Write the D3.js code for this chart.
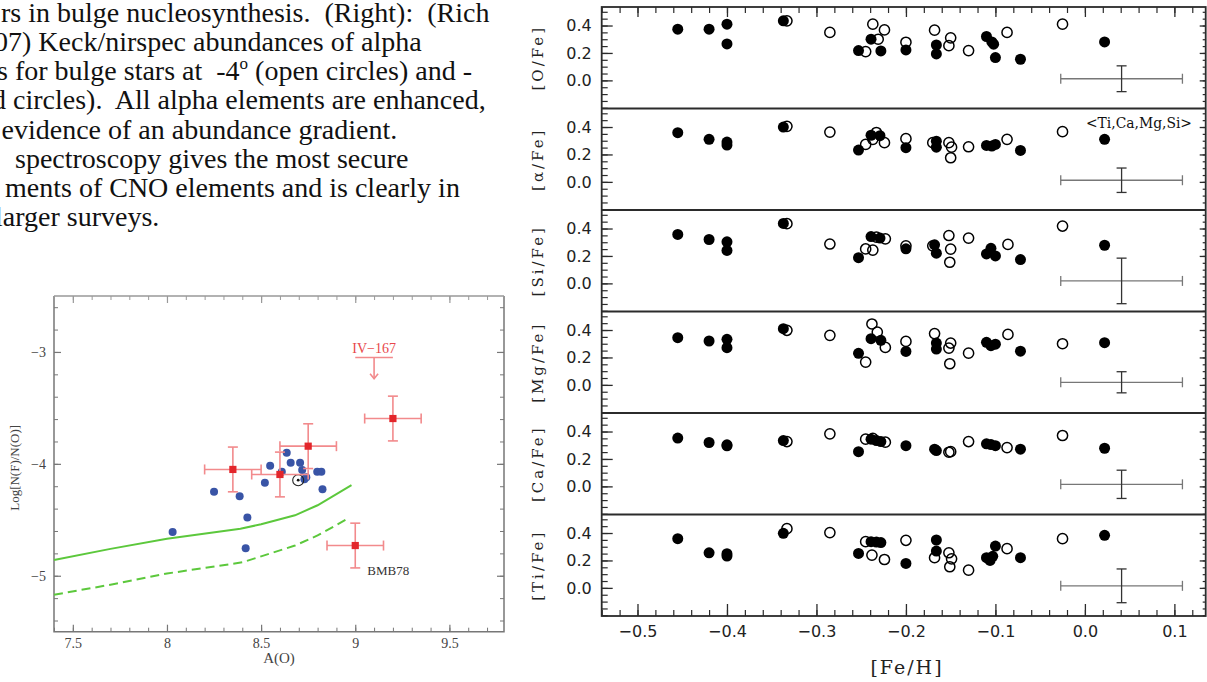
<!DOCTYPE html>
<html>
<head>
<meta charset="utf-8">
<script src="https://cdn.jsdelivr.net/npm/d3@7"></script>
<style>
  body { margin: 0; background: #fff; }
  svg { display: block; }
</style>
</head>
<body>
<div id="fig"></div>
<script>
// ---------- data ----------
// paragraph (cut off on the left in the source slide), "^" marks a superscript
const textLines = [
    "rs in bulge nucleosynthesis.  (Right):  (Rich",
    "07) Keck/nirspec abundances of alpha",
    "s for bulge stars at  -4^o^ (open circles) and -",
    "d circles).  All alpha elements are enhanced,",
    "evidence of an abundance gradient.",
    "spectroscopy gives the most secure",
    "ments of CNO elements and is clearly in",
    "larger surveys."
];

// left plot: fluorine vs oxygen
const blueAO = [8.03, 8.25, 8.386, 8.427, 8.418, 8.52, 8.548, 8.61, 8.636, 8.657, 8.707, 8.718, 8.74, 8.798, 8.82, 8.826, 8.73];
const blueNF = [-4.61, -4.25, -4.29, -4.48, -4.755, -4.17, -4.018, -4.07, -3.90, -3.99, -3.99, -4.056, -4.12, -4.07, -4.07, -4.226, -4.137];
const redAO = [8.35, 8.6, 8.75, 9.2, 9.0];
const redNF = [-4.05, -4.095, -3.842, -3.595, -4.73];
const redErrAO = 0.15;
const redErrNF = 0.2;
const modelAO = [7.4, 7.7, 8.0, 8.39, 8.5, 8.68, 8.8, 8.98];
const modelSolid = [-4.86, -4.76, -4.67, -4.58, -4.54, -4.46, -4.37, -4.19];
const modelDashAO = [7.4, 7.7, 8.0, 8.4, 8.68, 8.8, 8.96];
const modelDashed = [-5.17, -5.08, -4.98, -4.88, -4.73, -4.64, -4.49];
const sunPoint = [8.697, -4.146];
const limitPoint = [9.1, -3.05];   // IV-167 upper limit
const limitHalfWidth = 0.1;
const limitDrop = 0.19;
const leftXTicks = [7.5, 8, 8.5, 9, 9.5];
const leftYTicks = [-5, -4, -3];

// right plot: [X/Fe] vs [Fe/H], filled = one field, open = the other
const panelLabels = ["[O/Fe]", "[\u03b1/Fe]", "[Si/Fe]", "[Mg/Fe]", "[Ca/Fe]", "[Ti/Fe]"];

const oFilled = [[-0.455,0.373],[-0.420,0.373],[-0.400,0.41],[-0.400,0.266],[-0.337,0.434],[-0.253,0.217],[-0.239,0.30],[-0.228,0.215],[-0.200,0.222],[-0.166,0.258],[-0.166,0.193],[-0.110,0.32],[-0.104,0.28],[-0.102,0.264],[-0.100,0.166],[-0.072,0.154],[0.022,0.28]];
const oOpen = [[-0.333,0.434],[-0.285,0.35],[-0.245,0.21],[-0.237,0.41],[-0.231,0.30],[-0.224,0.368],[-0.200,0.278],[-0.168,0.366],[-0.150,0.31],[-0.152,0.253],[-0.130,0.217],[-0.087,0.35],[-0.025,0.41]];

const aFilled = [[-0.455,0.359],[-0.420,0.31],[-0.400,0.29],[-0.400,0.268],[-0.337,0.40],[-0.253,0.232],[-0.239,0.34],[-0.229,0.337],[-0.200,0.249],[-0.166,0.297],[-0.166,0.253],[-0.110,0.266],[-0.104,0.261],[-0.100,0.273],[-0.072,0.229],[0.022,0.31]];
const aOpen = [[-0.333,0.405],[-0.285,0.363],[-0.245,0.273],[-0.237,0.31],[-0.233,0.36],[-0.224,0.286],[-0.200,0.315],[-0.170,0.286],[-0.152,0.286],[-0.149,0.253],[-0.150,0.176],[-0.130,0.256],[-0.087,0.31],[-0.025,0.366]];

const siFilled = [[-0.455,0.357],[-0.420,0.32],[-0.400,0.303],[-0.400,0.24],[-0.337,0.437],[-0.253,0.187],[-0.239,0.341],[-0.229,0.33],[-0.200,0.252],[-0.168,0.281],[-0.166,0.22],[-0.110,0.215],[-0.105,0.256],[-0.100,0.2],[-0.072,0.174],[0.022,0.278]];
const siOpen = [[-0.333,0.435],[-0.285,0.287],[-0.245,0.251],[-0.237,0.243],[-0.233,0.337],[-0.223,0.325],[-0.200,0.274],[-0.170,0.274],[-0.152,0.349],[-0.150,0.25],[-0.151,0.154],[-0.130,0.33],[-0.086,0.284],[-0.025,0.418]];

const mgFilled = [[-0.455,0.344],[-0.420,0.32],[-0.400,0.332],[-0.400,0.271],[-0.337,0.41],[-0.253,0.23],[-0.239,0.337],[-0.228,0.325],[-0.200,0.244],[-0.166,0.305],[-0.166,0.261],[-0.110,0.31],[-0.105,0.286],[-0.100,0.297],[-0.072,0.246],[0.022,0.308]];
const mgOpen = [[-0.333,0.398],[-0.285,0.361],[-0.245,0.166],[-0.238,0.444],[-0.232,0.385],[-0.223,0.273],[-0.200,0.317],[-0.168,0.374],[-0.150,0.305],[-0.152,0.268],[-0.151,0.154],[-0.130,0.231],[-0.086,0.368],[-0.025,0.30]];

const caFilled = [[-0.455,0.352],[-0.420,0.32],[-0.400,0.303],[-0.400,0.296],[-0.337,0.334],[-0.253,0.253],[-0.239,0.344],[-0.233,0.334],[-0.228,0.327],[-0.200,0.297],[-0.168,0.271],[-0.166,0.261],[-0.110,0.31],[-0.105,0.305],[-0.100,0.297],[-0.072,0.271],[0.022,0.278]];
const caOpen = [[-0.333,0.327],[-0.285,0.383],[-0.245,0.344],[-0.237,0.35],[-0.223,0.322],[-0.152,0.249],[-0.150,0.253],[-0.130,0.327],[-0.087,0.283],[-0.025,0.371]];

const tiFilled = [[-0.455,0.359],[-0.420,0.256],[-0.400,0.249],[-0.400,0.232],[-0.337,0.398],[-0.253,0.251],[-0.239,0.337],[-0.233,0.334],[-0.228,0.33],[-0.200,0.178],[-0.166,0.349],[-0.166,0.268],[-0.110,0.22],[-0.106,0.2],[-0.103,0.23],[-0.100,0.305],[-0.072,0.22],[0.022,0.383]];
const tiOpen = [[-0.333,0.432],[-0.285,0.403],[-0.245,0.337],[-0.238,0.239],[-0.224,0.207],[-0.200,0.347],[-0.168,0.22],[-0.152,0.256],[-0.149,0.212],[-0.151,0.154],[-0.130,0.129],[-0.087,0.286],[-0.025,0.359]];

// typical error bar in each panel
const errFeH = 0.041;
const errFeHSize = 0.068;
const errXFe = [0.012, 0.012, 0.018, 0.019, 0.015, 0.015];
const errXFeSize = [0.094, 0.089, 0.166, 0.077, 0.103, 0.123];

const rightXTicks = [-0.5, -0.4, -0.3, -0.2, -0.1, 0.0, 0.1];
const rightYTicks = [0.0, 0.2, 0.4];

// ---------- layout ----------
const layout = {
    width: 1207,
    height: 682,
    textTop: 21.7,
    textLead: 29.2,
    textX: [1, -6, -3, -8, 1.5, 15, 5, -5],
    left: {left: 54, right: 504, top: 296, bottom: 631.7},
    right: {left: 601.7, right: 1205.7, top: 7, bottom: 616}
};

const svg = d3.select("#fig").append("svg")
    .attr("width", layout.width)
    .attr("height", layout.height)
    .attr("viewBox", [0, 0, layout.width, layout.height].join(" "));

// ---------- paragraph ----------
let para = svg.append("g")
    .attr("font-family", "'Liberation Serif', 'Times New Roman', serif")
    .attr("font-size", 28)
    .attr("fill", "#111");
textLines.forEach((line, i) => {
    let parts = line.split("^");
    let t = para.append("text")
        .attr("x", layout.textX[i])
        .attr("y", layout.textTop + i * layout.textLead)
        .style("white-space", "pre");
    parts.forEach((p, k) => {
        let span = t.append("tspan").text(p);
        if (k % 2 === 1) span.attr("font-size", 17).attr("dy", -11);
        if (k > 0 && k % 2 === 0) span.attr("dy", 11);
    });
});

// ---------- left plot ----------
const L = layout.left;
const xL = d3.scaleLinear().domain([7.4, 9.79]).range([L.left, L.right]);
const yL = d3.scaleLinear().domain([-5.5, -2.5]).range([L.bottom, L.top]);
const leftXMinor = d3.range(74, 98).map(k => k / 10);
const leftYMinor = d3.range(-27, -12).map(k => k / 5);

function styleAxis(g, color, width) {
    g.select(".domain").remove();
    g.selectAll("line").attr("stroke", color).attr("stroke-width", width);
}

let lp = svg.append("g");
// frame (top edge is paler in the scan)
lp.append("path")
    .attr("d", `M${L.left},${L.top}V${L.bottom}H${L.right}V${L.top}`)
    .attr("fill", "none").attr("stroke", "#777").attr("stroke-width", 1.5);
lp.append("line")
    .attr("x1", L.left).attr("x2", L.right).attr("y1", L.top).attr("y2", L.top)
    .attr("stroke", "#999").attr("stroke-width", 1.3);

let lxb = lp.append("g").attr("transform", `translate(0,${L.bottom})`)
    .call(d3.axisBottom(xL).tickValues(leftXTicks).tickSize(-7).tickPadding(6).tickFormat(d3.format("")));
lxb.call(styleAxis, "#777", 1.2);
lp.append("g").attr("transform", `translate(0,${L.bottom})`)
    .call(d3.axisBottom(xL).tickValues(leftXMinor).tickSize(-4).tickFormat(""))
    .call(styleAxis, "#777", 1);
lp.append("g").attr("transform", `translate(0,${L.top})`)
    .call(d3.axisTop(xL).tickValues(leftXTicks).tickSize(-7).tickFormat(""))
    .call(styleAxis, "#999", 1.2);
lp.append("g").attr("transform", `translate(0,${L.top})`)
    .call(d3.axisTop(xL).tickValues(leftXMinor).tickSize(-4).tickFormat(""))
    .call(styleAxis, "#999", 1);
let lyl = lp.append("g").attr("transform", `translate(${L.left},0)`)
    .call(d3.axisLeft(yL).tickValues(leftYTicks).tickSize(-7).tickPadding(8).tickFormat(d3.format("")));
lyl.call(styleAxis, "#777", 1.2);
lp.append("g").attr("transform", `translate(${L.left},0)`)
    .call(d3.axisLeft(yL).tickValues(leftYMinor).tickSize(-4).tickFormat(""))
    .call(styleAxis, "#777", 1);
lp.append("g").attr("transform", `translate(${L.right},0)`)
    .call(d3.axisRight(yL).tickValues(leftYTicks).tickSize(-7).tickFormat(""))
    .call(styleAxis, "#777", 1.2);
lp.append("g").attr("transform", `translate(${L.right},0)`)
    .call(d3.axisRight(yL).tickValues(leftYMinor).tickSize(-4).tickFormat(""))
    .call(styleAxis, "#777", 1);
lp.selectAll(".tick text")
    .attr("font-family", "'Liberation Serif', serif")
    .attr("font-size", 14)
    .attr("fill", "#444");

// axis titles
lp.append("text")
    .attr("transform", `translate(19,${(L.top + L.bottom) / 2 + 4}) rotate(-90)`)
    .attr("text-anchor", "middle")
    .attr("font-family", "'Liberation Serif', serif")
    .attr("font-size", 13)
    .attr("fill", "#444")
    .text("Log[N(F)/N(O)]");
lp.append("text")
    .attr("x", (L.left + L.right) / 2)
    .attr("y", 663)
    .attr("text-anchor", "middle")
    .attr("font-family", "'Liberation Serif', serif")
    .attr("font-size", 15)
    .attr("fill", "#444")
    .text("A(O)");

// model curves
let lineSolid = d3.line().x((d, i) => xL(modelAO[i])).y(d => yL(d));
let lineDash = d3.line().x((d, i) => xL(modelDashAO[i])).y(d => yL(d));
lp.append("path").datum(modelSolid)
    .attr("d", lineSolid).attr("fill", "none")
    .attr("stroke", "#5cc83c").attr("stroke-width", 2);
lp.append("path").datum(modelDashed)
    .attr("d", lineDash).attr("fill", "none")
    .attr("stroke", "#5cc83c").attr("stroke-width", 2)
    .attr("stroke-dasharray", "9,5");

// blue field stars
lp.selectAll("circle.blue").data(blueAO).join("circle")
    .attr("class", "blue")
    .attr("cx", d => xL(d))
    .attr("cy", (d, i) => yL(blueNF[i]))
    .attr("r", 4)
    .attr("fill", "#3954a6");

// sun symbol
lp.append("circle")
    .attr("cx", xL(sunPoint[0])).attr("cy", yL(sunPoint[1])).attr("r", 5.5)
    .attr("fill", "none").attr("stroke", "#222").attr("stroke-width", 1.1);
lp.append("circle")
    .attr("cx", xL(sunPoint[0])).attr("cy", yL(sunPoint[1])).attr("r", 1.4)
    .attr("fill", "#111");

// red bulge stars with error bars
const errColor = "#f28a8c";
redAO.forEach((a, i) => {
    let cx = xL(a), cy = yL(redNF[i]);
    let x0 = xL(a - redErrAO), x1 = xL(a + redErrAO);
    let y0 = yL(redNF[i] - redErrNF), y1 = yL(redNF[i] + redErrNF);
    let eb = lp.append("g").attr("stroke", errColor).attr("stroke-width", 1.6);
    eb.append("line").attr("x1", x0).attr("x2", x1).attr("y1", cy).attr("y2", cy);
    eb.append("line").attr("x1", cx).attr("x2", cx).attr("y1", y0).attr("y2", y1);
    eb.append("line").attr("x1", x0).attr("x2", x0).attr("y1", cy - 5).attr("y2", cy + 5);
    eb.append("line").attr("x1", x1).attr("x2", x1).attr("y1", cy - 5).attr("y2", cy + 5);
    eb.append("line").attr("x1", cx - 5).attr("x2", cx + 5).attr("y1", y0).attr("y2", y0);
    eb.append("line").attr("x1", cx - 5).attr("x2", cx + 5).attr("y1", y1).attr("y2", y1);
});
lp.selectAll("rect.red").data(redAO).join("rect")
    .attr("class", "red")
    .attr("x", d => xL(d) - 3.6)
    .attr("y", (d, i) => yL(redNF[i]) - 3.6)
    .attr("width", 7.2).attr("height", 7.2)
    .attr("fill", "#e3262b");

// IV-167 upper limit
let lim = lp.append("g").attr("stroke", errColor).attr("stroke-width", 1.6).attr("fill", "none");
let lx = xL(limitPoint[0]), ly = yL(limitPoint[1]), ly2 = yL(limitPoint[1] - limitDrop);
lim.append("line")
    .attr("x1", xL(limitPoint[0] - limitHalfWidth)).attr("x2", xL(limitPoint[0] + limitHalfWidth))
    .attr("y1", ly).attr("y2", ly);
lim.append("line").attr("x1", lx).attr("x2", lx).attr("y1", ly).attr("y2", ly2);
lim.append("path").attr("d", `M${lx - 4},${ly2 - 5}L${lx},${ly2}L${lx + 4},${ly2 - 5}`);
lp.append("text")
    .attr("x", lx).attr("y", ly - 5)
    .attr("text-anchor", "middle")
    .attr("font-family", "'Liberation Serif', serif")
    .attr("font-size", 14)
    .attr("fill", "#e8474b")
    .text("IV\u2212167");
lp.append("text")
    .attr("x", xL(redAO[4]) + 12).attr("y", yL(redNF[4]) + 29)
    .attr("font-family", "'Liberation Serif', serif")
    .attr("font-size", 13)
    .attr("fill", "#333")
    .text("BMB78");

// ---------- right plot ----------
const R = layout.right;
const ph = (R.bottom - R.top) / 6;
const xR = d3.scaleLinear().domain([-0.54, 0.135]).range([R.left, R.right]);
const yR = d3.scaleLinear().domain([-0.205, 0.535]).range([ph, 0]);
const rightXMinor = d3.range(-27, 7).map(k => k * 0.02);
const rightYMinor = d3.range(-4, 11).map(k => k * 0.05);

const panels = [
    {label: panelLabels[0], filled: oFilled, open: oOpen},
    {label: panelLabels[1], filled: aFilled, open: aOpen},
    {label: panelLabels[2], filled: siFilled, open: siOpen},
    {label: panelLabels[3], filled: mgFilled, open: mgOpen},
    {label: panelLabels[4], filled: caFilled, open: caOpen},
    {label: panelLabels[5], filled: tiFilled, open: tiOpen}
];

const ink = "#2b2b2b";

panels.forEach((p, i) => {
    let g = svg.append("g").attr("transform", `translate(0,${R.top + i * ph})`);

    // y ticks, inward on both sides
    g.append("g").attr("transform", `translate(${R.left},0)`)
        .call(d3.axisLeft(yR).tickValues(rightYTicks).tickSize(-11).tickPadding(10).tickFormat(d3.format(".1f")))
        .call(styleAxis, ink, 1.3)
        .selectAll("text")
        .attr("font-family", "'DejaVu Sans', sans-serif")
        .attr("font-size", 16)
        .attr("fill", "#222");
    g.append("g").attr("transform", `translate(${R.left},0)`)
        .call(d3.axisLeft(yR).tickValues(rightYMinor).tickSize(-6).tickFormat(""))
        .call(styleAxis, ink, 1.2);
    g.append("g").attr("transform", `translate(${R.right},0)`)
        .call(d3.axisRight(yR).tickValues(rightYTicks).tickSize(-6).tickFormat(""))
        .call(styleAxis, ink, 1.3);
    g.append("g").attr("transform", `translate(${R.right},0)`)
        .call(d3.axisRight(yR).tickValues(rightYMinor).tickSize(-3).tickFormat(""))
        .call(styleAxis, ink, 1.2);

    // panel label
    g.append("text")
        .attr("transform", `translate(543,${ph / 2}) rotate(-90)`)
        .attr("text-anchor", "middle")
        .attr("font-family", "'DejaVu Serif', serif")
        .attr("font-size", 15)
        .attr("letter-spacing", 3)
        .attr("fill", "#222")
        .text(p.label);

    // typical error bar
    let ex0 = xR(errFeH - errFeHSize), ex1 = xR(errFeH + errFeHSize), ecx = xR(errFeH);
    let ecy = yR(errXFe[i]), ey0 = yR(errXFe[i] - errXFeSize[i]), ey1 = yR(errXFe[i] + errXFeSize[i]);
    let eb = g.append("g").attr("stroke-width", 1.3);
    eb.append("line").attr("x1", ex0).attr("x2", ex1).attr("y1", ecy).attr("y2", ecy).attr("stroke", "#777");
    eb.append("line").attr("x1", ex0).attr("x2", ex0).attr("y1", ecy - 5).attr("y2", ecy + 5).attr("stroke", "#777");
    eb.append("line").attr("x1", ex1).attr("x2", ex1).attr("y1", ecy - 5).attr("y2", ecy + 5).attr("stroke", "#777");
    eb.append("line").attr("x1", ecx).attr("x2", ecx).attr("y1", ey0).attr("y2", ey1).attr("stroke", "#333");
    eb.append("line").attr("x1", ecx - 5).attr("x2", ecx + 5).attr("y1", ey0).attr("y2", ey0).attr("stroke", "#333");
    eb.append("line").attr("x1", ecx - 5).attr("x2", ecx + 5).attr("y1", ey1).attr("y2", ey1).attr("stroke", "#333");

    // stars
    g.selectAll("circle.filled").data(p.filled).join("circle")
        .attr("class", "filled")
        .attr("cx", d => xR(d[0]))
        .attr("cy", d => yR(d[1]))
        .attr("r", 5.5)
        .attr("fill", "#000");
    g.selectAll("circle.open").data(p.open).join("circle")
        .attr("class", "open")
        .attr("cx", d => xR(d[0]))
        .attr("cy", d => yR(d[1]))
        .attr("r", 5.1)
        .attr("fill", "none")
        .attr("stroke", "#000")
        .attr("stroke-width", 1.5);

    if (i === 1) {
        g.append("text")
            .attr("x", 1086).attr("y", 19)
            .attr("font-family", "'DejaVu Serif', serif")
            .attr("font-size", 14)
            .attr("textLength", 106)
            .attr("lengthAdjust", "spacingAndGlyphs")
            .attr("fill", "#111")
            .text("<Ti,Ca,Mg,Si>");
    }
});

// x ticks top and bottom, inward
svg.append("g").attr("transform", `translate(0,${R.bottom})`)
    .call(d3.axisBottom(xR).tickValues(rightXTicks).tickSize(-12).tickPadding(10).tickFormat(d3.format(".1f")))
    .call(styleAxis, ink, 1.3)
    .selectAll("text")
    .attr("font-family", "'DejaVu Sans', sans-serif")
    .attr("font-size", 16)
    .attr("fill", "#222");
svg.append("g").attr("transform", `translate(0,${R.bottom})`)
    .call(d3.axisBottom(xR).tickValues(rightXMinor).tickSize(-6).tickFormat(""))
    .call(styleAxis, ink, 1.2);
svg.append("g").attr("transform", `translate(0,${R.top})`)
    .call(d3.axisTop(xR).tickValues(rightXTicks).tickSize(-10).tickFormat(""))
    .call(styleAxis, ink, 1.3);
svg.append("g").attr("transform", `translate(0,${R.top})`)
    .call(d3.axisTop(xR).tickValues(rightXMinor).tickSize(-6).tickFormat(""))
    .call(styleAxis, ink, 1.2);

// frame and panel dividers
svg.append("rect")
    .attr("x", R.left).attr("y", R.top)
    .attr("width", R.right - R.left).attr("height", R.bottom - R.top)
    .attr("fill", "none").attr("stroke", ink).attr("stroke-width", 1.8);
for (let i = 1; i < 6; i++) {
    svg.append("line")
        .attr("x1", R.left).attr("x2", R.right)
        .attr("y1", R.top + i * ph).attr("y2", R.top + i * ph)
        .attr("stroke", ink).attr("stroke-width", 1.8);
}

svg.append("text")
    .attr("x", 907).attr("y", 674)
    .attr("text-anchor", "middle")
    .attr("font-family", "'DejaVu Serif', serif")
    .attr("font-size", 19)
    .attr("letter-spacing", 2)
    .attr("fill", "#222")
    .text("[Fe/H]");
</script>
</body>
</html>
